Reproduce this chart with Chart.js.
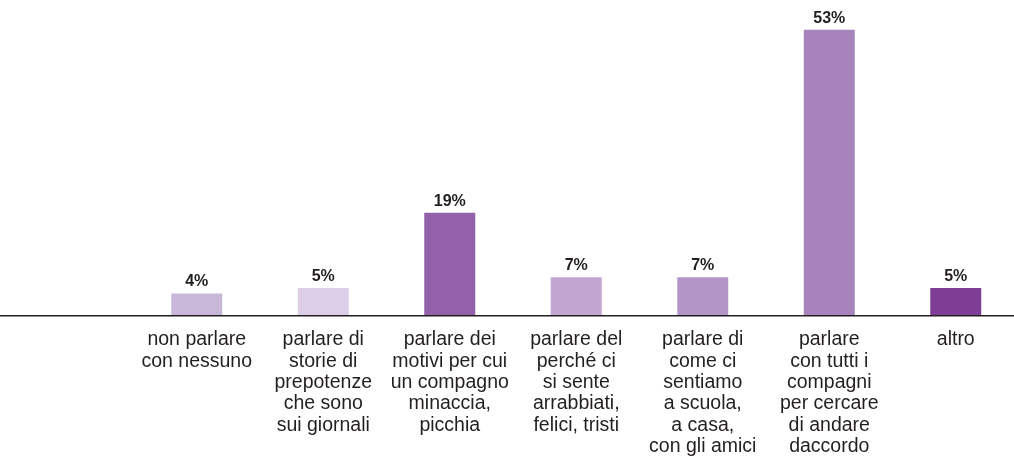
<!DOCTYPE html>
<html>
<head>
<meta charset="utf-8">
<script src="https://cdn.jsdelivr.net/npm/chart.js@4.4.1/dist/chart.umd.min.js"></script>
<style>
  html, body { margin: 0; padding: 0; background: #fff; overflow: hidden; }
  #wrap { width: 1014px; height: 458px; overflow: hidden; }
</style>
</head>
<body>
<div id="wrap"><canvas id="grafico" width="1019" height="458"></canvas></div>
<script>
// categorie (la prima è vuota, come nel grafico originale)
const categorie = [
  [""],
  ["non parlare", "con nessuno"],
  ["parlare di", "storie di", "prepotenze", "che sono", "sui giornali"],
  ["parlare dei", "motivi per cui", "un compagno", "minaccia,", "picchia"],
  ["parlare del", "perché ci", "si sente", "arrabbiati,", "felici, tristi"],
  ["parlare di", "come ci", "sentiamo", "a scuola,", "a casa,", "con gli amici"],
  ["parlare", "con tutti i", "compagni", "per cercare", "di andare", "daccordo"],
  ["altro"]
];

const percentuali = [null, 4, 5, 19, 7, 7, 53, 5];

const colori = [
  "#ffffff",
  "#c9b7da",
  "#dbcee6",
  "#9261a9",
  "#c2a6d0",
  "#b496c6",
  "#a783bc",
  "#7f3e96"
];

const coloreTesto = "#231f20";
const font = "'Liberation Sans', Arial, Helvetica, sans-serif";

// etichette sopra le barre
const etichettePlugin = {
  id: "etichette",
  afterDatasetsDraw(chart) {
    const ctx = chart.ctx;
    const meta = chart.getDatasetMeta(0);
    ctx.save();
    ctx.font = "bold 16px " + font;
    ctx.fillStyle = coloreTesto;
    ctx.textAlign = "center";
    ctx.textBaseline = "alphabetic";
    for (let i = 0; i < meta.data.length; i++) {
      if (percentuali[i] == null) continue;
      const barra = meta.data[i];
      ctx.fillText(percentuali[i] + "%", barra.x, barra.y - 7);
    }
    ctx.restore();
  }
};

// linea di base su tutta la larghezza
const lineaBase = {
  id: "lineaBase",
  afterDatasetsDraw(chart) {
    const ctx = chart.ctx;
    const y = chart.scales.y.getPixelForValue(0);
    ctx.save();
    ctx.strokeStyle = coloreTesto;
    ctx.lineWidth = 1.5;
    ctx.beginPath();
    ctx.moveTo(0, y + 0.7);
    ctx.lineTo(chart.width, y + 0.7);
    ctx.stroke();
    ctx.restore();
  }
};

new Chart(document.getElementById("grafico"), {
  type: "bar",
  data: {
    labels: categorie,
    datasets: [
      {
        data: percentuali,
        backgroundColor: colori,
        borderWidth: 0,
        categoryPercentage: 1,
        barPercentage: 0.403
      }
    ]
  },
  options: {
    responsive: false,
    animation: false,
    layout: { padding: { left: 7, right: 0, top: 0, bottom: 0 } },
    plugins: { legend: { display: false }, tooltip: { enabled: false } },
    scales: {
      x: {
        grid: { display: false, drawTicks: false },
        border: { display: false },
        afterFit(scale) { scale.height = 143; },
        ticks: {
          color: coloreTesto,
          font: { family: font, size: 19.5, lineHeight: 1.1 },
          padding: 14,
          maxRotation: 0,
          autoSkip: false
        }
      },
      y: {
        display: false,
        min: 0,
        max: 58.55
      }
    }
  },
  plugins: [etichettePlugin, lineaBase]
});
</script>
</body>
</html>
